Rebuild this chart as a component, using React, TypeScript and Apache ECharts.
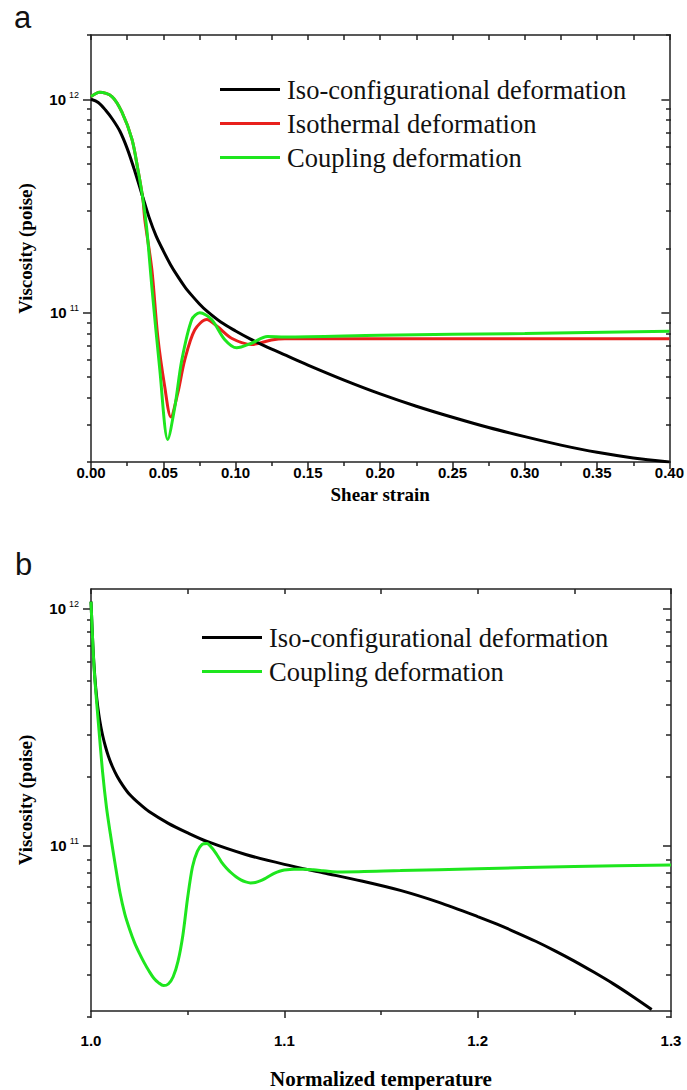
import React, { useEffect, useRef } from 'react';
import * as echarts from 'echarts';

// ---------- Panel a: viscosity (poise) vs shear strain ----------
const isoStrain = [0, 0.005, 0.01, 0.015, 0.02, 0.025, 0.03, 0.035, 0.04, 0.045, 0.05, 0.055, 0.06, 0.065, 0.07, 0.075, 0.08, 0.09, 0.10, 0.11, 0.12, 0.135, 0.15, 0.175, 0.2, 0.225, 0.25, 0.275, 0.3, 0.325, 0.35, 0.375, 0.4];
const isoVisc = [1.0e12, 9.66e11, 8.91e11, 8.04e11, 7.08e11, 5.89e11, 4.68e11, 3.63e11, 2.82e11, 2.29e11, 1.95e11, 1.68e11, 1.48e11, 1.32e11, 1.2e11, 1.1e11, 1.02e11, 9.02e10, 8.22e10, 7.55e10, 7.0e10, 6.31e10, 5.69e10, 4.84e10, 4.17e10, 3.65e10, 3.24e10, 2.9e10, 2.63e10, 2.4e10, 2.22e10, 2.09e10, 2.0e10];

const isoThStrain = [0, 0.006, 0.0145, 0.0214, 0.0283, 0.0324, 0.0359, 0.0372, 0.0421, 0.0462, 0.051, 0.0552, 0.06, 0.0648, 0.0717, 0.08, 0.0876, 0.0972, 0.111, 0.1248, 0.134, 0.2, 0.3, 0.4];
const isoThVisc = [1.03e12, 1.08e12, 1.03e12, 8.7e11, 6.5e11, 4.7e11, 3.4e11, 2.73e11, 1.59e11, 7.7e10, 4.5e10, 3.25e10, 4.2e10, 6.0e10, 8.3e10, 9.3e10, 8.6e10, 7.6e10, 7.1e10, 7.45e10, 7.55e10, 7.55e10, 7.55e10, 7.55e10];

const coupStrain = [0, 0.006, 0.0145, 0.0214, 0.0283, 0.0324, 0.0359, 0.0386, 0.0421, 0.0476, 0.0531, 0.0579, 0.0628, 0.0697, 0.0752, 0.0834, 0.0924, 0.1007, 0.111, 0.122, 0.134, 0.2, 0.3, 0.4];
const coupVisc = [1.03e12, 1.08e12, 1.03e12, 8.7e11, 6.5e11, 4.7e11, 3.4e11, 2.45e11, 1.32e11, 5.4e10, 2.55e10, 3.6e10, 6.0e10, 9.3e10, 1.0e11, 9.3e10, 7.5e10, 6.85e10, 7.2e10, 7.75e10, 7.7e10, 7.85e10, 8.0e10, 8.2e10];

// ---------- Panel b: viscosity (poise) vs normalized temperature ----------
const isoTemp = [1.0, 1.001, 1.002, 1.003, 1.004, 1.005, 1.006, 1.0075, 1.009, 1.011, 1.0135, 1.0165, 1.02, 1.025, 1.03, 1.04, 1.05, 1.06, 1.08, 1.10, 1.12, 1.14, 1.16, 1.18, 1.20, 1.21, 1.22, 1.23, 1.24, 1.25, 1.26, 1.27, 1.28, 1.29];
const isoTempVisc = [1.07e12, 6.92e11, 5.13e11, 4.17e11, 3.59e11, 3.2e11, 2.92e11, 2.61e11, 2.38e11, 2.16e11, 1.96e11, 1.79e11, 1.64e11, 1.5e11, 1.39e11, 1.24e11, 1.13e11, 1.04e11, 9.16e10, 8.32e10, 7.67e10, 7.08e10, 6.46e10, 5.75e10, 5.01e10, 4.65e10, 4.29e10, 3.94e10, 3.59e10, 3.25e10, 2.92e10, 2.61e10, 2.31e10, 2.03e10];

const coupTemp = [1.0, 1.001, 1.002, 1.004, 1.006, 1.008, 1.01, 1.0125, 1.015, 1.0175, 1.02, 1.0225, 1.025, 1.0275, 1.03, 1.0325, 1.035, 1.0375, 1.04, 1.0425, 1.045, 1.0475, 1.05, 1.0525, 1.055, 1.0575, 1.06, 1.0625, 1.065, 1.0675, 1.07, 1.0725, 1.075, 1.0775, 1.08, 1.0825, 1.085, 1.0875, 1.09, 1.0925, 1.095, 1.0975, 1.1, 1.105, 1.11, 1.115, 1.12, 1.125, 1.13, 1.16, 1.2, 1.25, 1.3];
const coupTempVisc = [1.07e12, 6.92e11, 5.01e11, 3.16e11, 2.04e11, 1.45e11, 1.12e11, 8.32e10, 6.31e10, 5.13e10, 4.42e10, 3.89e10, 3.51e10, 3.2e10, 2.95e10, 2.75e10, 2.63e10, 2.56e10, 2.6e10, 2.79e10, 3.24e10, 4.17e10, 6.03e10, 8.13e10, 9.44e10, 1.01e11, 1.02e11, 9.77e10, 9.16e10, 8.51e10, 8.04e10, 7.67e10, 7.38e10, 7.16e10, 7.02e10, 6.95e10, 6.97e10, 7.08e10, 7.24e10, 7.45e10, 7.64e10, 7.78e10, 7.87e10, 7.94e10, 7.94e10, 7.89e10, 7.82e10, 7.75e10, 7.73e10, 7.83e10, 7.98e10, 8.15e10, 8.26e10];

// ---------- Names and ticks ----------
const nameIso = 'Iso-configurational deformation';
const nameIsoTh = 'Isothermal deformation';
const nameCoup = 'Coupling deformation';
const legendA = [nameIso, nameIsoTh, nameCoup];
const legendB = [nameIso, nameCoup];

const majorExponents = [11, 12];
const minorMantissas = [2, 3, 4, 5, 6, 7, 8, 9];
const decadeExponents = [10, 11, 12];

const yMinA = 2e10, yMaxA = 2e12;
const yMinB = 2e10, yMaxB = 1.21e12;

const COLORS = { black: '#000000', red: '#e8201c', green: '#1ee61e' };
const serif = "'Liberation Serif', 'Times New Roman', serif";
const sans = "'Liberation Sans', Arial, sans-serif";
const axisColor = '#222';

function toPairs(xs: number[], vs: number[]) {
  return xs.map((x, i) => [x, Math.log10(vs[i])]);
}

const minorLog: number[] = [];
decadeExponents.forEach((e) => minorMantissas.forEach((m) => minorLog.push(e + Math.log10(m))));

function buildOption() {
  const lineStyle = { color: axisColor, width: 1.5 };
  const grids = [
    { left: 91, top: 35, width: 580, height: 427 },
    { left: 91, top: 589, width: 580, height: 428 },
  ];
  const grid = [...grids, ...grids].map((g) => ({ ...g, show: false, containLabel: false }));

  const xBottom = (gi: number, min: number, max: number, interval: number, digits: number, margin: number, name: string, nameGap: number, nameSize: number) => ({
    gridIndex: gi, type: 'value', position: 'bottom', min, max, interval,
    axisLine: { show: true, onZero: false, lineStyle },
    axisTick: { show: true, length: 7, lineStyle },
    minorTick: { show: true, splitNumber: 2, length: 4, lineStyle },
    axisLabel: { formatter: (v: number) => v.toFixed(digits), fontFamily: sans, fontWeight: 'bold', fontSize: 15, color: '#000', margin },
    splitLine: { show: false }, minorSplitLine: { show: false },
    name, nameLocation: 'middle', nameGap,
    nameTextStyle: { fontFamily: serif, fontWeight: 'bold', fontSize: nameSize, color: '#000' },
  });
  const xTop = (gi: number, min: number, max: number, interval: number) => ({
    gridIndex: gi, type: 'value', position: 'top', min, max, interval,
    axisLine: { show: true, onZero: false, lineStyle },
    axisTick: { show: true, inside: true, length: 5, lineStyle },
    axisLabel: { show: false },
    splitLine: { show: false },
  });
  const xHidden = (gi: number) => ({ gridIndex: gi, type: 'value', show: false, min: 0, max: 1 });

  const yMajorLeft = (gi: number, lo: number, hi: number) => ({
    gridIndex: gi, type: 'value', position: 'left', min: Math.log10(lo), max: Math.log10(hi),
    axisLine: { show: true, onZero: false, lineStyle },
    axisTick: { show: true, length: 8, customValues: majorExponents, lineStyle },
    axisLabel: {
      customValues: majorExponents,
      formatter: (v: number) => `{b|10}{s|${Math.round(v)}}`,
      margin: 12,
      rich: {
        b: { fontFamily: sans, fontWeight: 'bold', fontSize: 15, lineHeight: 18, color: '#000' },
        s: { fontFamily: sans, fontSize: 9, lineHeight: 9, verticalAlign: 'top', color: '#000', padding: [0, 0, 0, 3] },
      },
    },
    splitLine: { show: false },
    name: 'Viscosity (poise)', nameLocation: 'middle', nameGap: 56, nameRotate: 90,
    nameTextStyle: { fontFamily: serif, fontWeight: 'bold', fontSize: 19, color: '#000' },
  });
  const yMajorRight = (gi: number, lo: number, hi: number) => ({
    gridIndex: gi, type: 'value', position: 'right', min: Math.log10(lo), max: Math.log10(hi),
    axisLine: { show: true, onZero: false, lineStyle },
    axisTick: { show: true, inside: true, length: 8, customValues: majorExponents, lineStyle },
    axisLabel: { show: false },
    splitLine: { show: false },
  });
  const yMinor = (gi: number, pos: string, lo: number, hi: number) => ({
    gridIndex: gi, type: 'value', position: pos, min: Math.log10(lo), max: Math.log10(hi),
    axisLine: { show: false },
    axisTick: {
      show: true, inside: pos === 'right', length: pos === 'right' ? 5 : 4,
      customValues: minorLog.filter((v) => v >= Math.log10(lo) - 1e-9 && v <= Math.log10(hi) + 1e-9),
      lineStyle,
    },
    axisLabel: { show: false },
    splitLine: { show: false },
  });

  const line = (name: string, color: string, xi: number, yi: number, data: number[][], z: number) => ({
    type: 'line', name, xAxisIndex: xi, yAxisIndex: yi, data,
    showSymbol: false, symbol: 'none', smooth: 0.3, z,
    lineStyle: { color, width: 3 }, itemStyle: { color },
  });

  const legendCommon = {
    orient: 'vertical', icon: 'rect', itemWidth: 60, itemHeight: 3, itemGap: 7, padding: 0,
    selectedMode: false,
    textStyle: { fontFamily: serif, fontSize: 26.5, lineHeight: 26, color: '#111', padding: [0, 0, 0, 2] },
  };

  return {
    animation: false,
    backgroundColor: '#ffffff',
    grid,
    xAxis: [
      xBottom(0, 0, 0.4, 0.05, 2, 3, 'Shear strain', 23, 19),
      xTop(0, 0, 0.4, 0.025),
      xBottom(1, 1.0, 1.3, 0.1, 1, 22, 'Normalized temperature', 57, 21),
      xTop(1, 1.0, 1.3, 0.05),
      xHidden(2),
      xHidden(3),
    ],
    yAxis: [
      yMajorLeft(0, yMinA, yMaxA),
      yMajorRight(0, yMinA, yMaxA),
      yMajorLeft(1, yMinB, yMaxB),
      yMajorRight(1, yMinB, yMaxB),
      yMinor(2, 'left', yMinA, yMaxA),
      yMinor(2, 'right', yMinA, yMaxA),
      yMinor(3, 'left', yMinB, yMaxB),
      yMinor(3, 'right', yMinB, yMaxB),
    ],
    legend: [
      { ...legendCommon, left: 220, top: 76, data: legendA },
      { ...legendCommon, left: 202, top: 624, data: legendB },
    ],
    graphic: [
      { type: 'text', left: 14, top: 2, style: { text: 'a', fontFamily: sans, fontSize: 31, fill: '#111' } },
      { type: 'text', left: 15, top: 549, style: { text: 'b', fontFamily: sans, fontSize: 31, fill: '#111' } },
    ],
    series: [
      line(nameIsoTh, COLORS.red, 0, 0, toPairs(isoThStrain, isoThVisc), 2),
      line(nameIso, COLORS.black, 0, 0, toPairs(isoStrain, isoVisc), 3),
      line(nameCoup, COLORS.green, 0, 0, toPairs(coupStrain, coupVisc), 4),
      line(nameIso, COLORS.black, 2, 2, toPairs(isoTemp, isoTempVisc), 3),
      line(nameCoup, COLORS.green, 2, 2, toPairs(coupTemp, coupTempVisc), 4),
    ],
  };
}

export default function App() {
  const ref = useRef<HTMLDivElement>(null);
  useEffect(() => {
    document.body.style.margin = '0';
    const chart = echarts.init(ref.current as HTMLDivElement, null, { renderer: 'svg' });
    chart.setOption(buildOption() as any);
    return () => chart.dispose();
  }, []);
  return <div ref={ref} style={{ width: 687, height: 1090 }} />;
}
